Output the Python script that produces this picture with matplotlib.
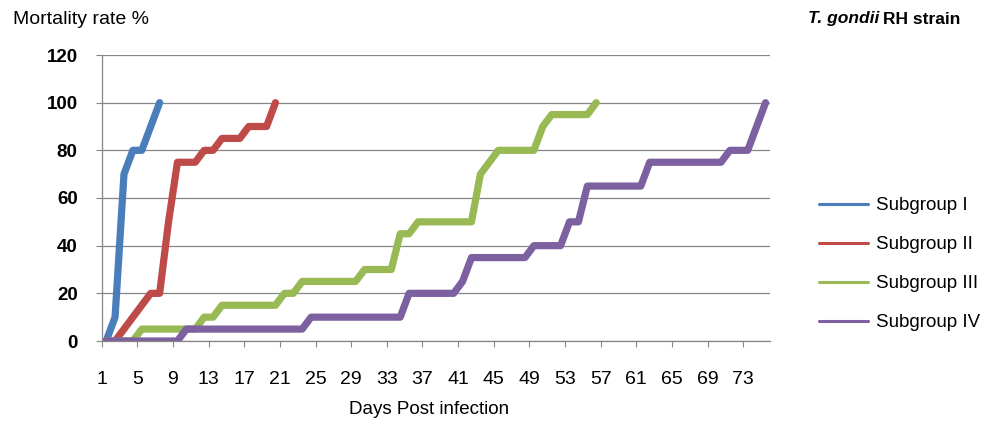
import numpy as np
import matplotlib.pyplot as plt

plt.rcParams['font.family'] = ['Liberation Sans', 'DejaVu Sans']

# mortality (%) per day post infection, one value per day starting at day 1
subgroup_1 = [0, 10, 70, 80, 80, 90, 100]
subgroup_2 = [0, 0, 5, 10, 15, 20, 20, 50, 75, 75,
              75, 80, 80, 85, 85, 85, 90, 90, 90, 100]
subgroup_3 = [0, 0, 0, 0, 5, 5, 5, 5, 5, 5,
              5, 10, 10, 15, 15, 15, 15, 15, 15, 15,
              20, 20, 25, 25, 25, 25, 25, 25, 25, 30,
              30, 30, 30, 45, 45, 50, 50, 50, 50, 50,
              50, 50, 70, 75, 80, 80, 80, 80, 80, 90,
              95, 95, 95, 95, 95, 100]
subgroup_4 = [0, 0, 0, 0, 0, 0, 0, 0, 0, 5,
              5, 5, 5, 5, 5, 5, 5, 5, 5, 5,
              5, 5, 5, 10, 10, 10, 10, 10, 10, 10,
              10, 10, 10, 10, 20, 20, 20, 20, 20, 20,
              25, 35, 35, 35, 35, 35, 35, 35, 40, 40,
              40, 40, 50, 50, 65, 65, 65, 65, 65, 65,
              65, 75, 75, 75, 75, 75, 75, 75, 75, 75,
              80, 80, 80, 90, 100]

series_names = ['Subgroup I', 'Subgroup II', 'Subgroup III', 'Subgroup IV']
series_colors = ['#4A7EBB', '#BE4B48', '#98B954', '#7D60A0']
n_days = 75
day_labels = [str(d) for d in range(1, n_days + 1, 4)]

W, H = 988, 425
fig = plt.figure(figsize=(W / 100, H / 100), dpi=100)
ax = fig.add_axes([101.7 / W, 1 - 341 / H, (770 - 101.7) / W, (341 - 55) / H])

for name, vals, col in zip(series_names,
                           [subgroup_1, subgroup_2, subgroup_3, subgroup_4],
                           series_colors):
    x = np.arange(1, len(vals) + 1)
    ax.plot(x, vals, color=col, lw=5.2, label=name,
            solid_joinstyle='round', solid_capstyle='round')

grey = '#868686'
ax.set_xlim(0.5, n_days + 0.5)
ax.set_ylim(0, 120)

ax.set_yticks(range(0, 121, 20))
ax.set_yticklabels([str(v) for v in range(0, 121, 20)], fontweight='bold', fontsize=13.5)
ax.yaxis.grid(True, color=grey, lw=0.9)
ax.set_axisbelow(True)

ax.set_xticks([0.5 + 4 * k for k in range(len(day_labels))])
ax.set_xticklabels(day_labels, fontsize=14)

ax.tick_params(axis='y', length=4.3, color=grey, pad=13)
ax.tick_params(axis='x', length=4.3, color=grey, pad=17)

for side in ['top', 'right']:
    ax.spines[side].set_visible(False)
for side in ['left', 'bottom']:
    ax.spines[side].set_color(grey)
    ax.spines[side].set_linewidth(0.9)

fig.text(13 / W, 1 - 20 / H, 'Mortality rate %', fontsize=14, ha='left', va='center')
fig.text(429 / W, 1 - 410 / H, 'Days Post infection', fontsize=13.5, ha='center', va='center')

# title with the italic species name
t1 = fig.text(808 / W, 1 - 19 / H, 'T. gondii', fontsize=12.5, fontweight='bold',
              fontstyle='italic', ha='left', va='center')
renderer = fig.canvas.get_renderer()
bb = t1.get_window_extent(renderer)
fig.text(bb.x1 / W + 4 / W, 1 - 19 / H, 'RH strain', fontsize=12.5, fontweight='bold',
         ha='left', va='center')

handles, labels = ax.get_legend_handles_labels()
leg = fig.legend(handles, labels, loc='upper left', bbox_to_anchor=(819 / W, 1 - 197 / H),
                 frameon=False, fontsize=13.5, handlelength=2.6, handletextpad=0.45,
                 labelspacing=1.17, borderpad=0, borderaxespad=0)
for line in leg.get_lines():
    line.set_linewidth(2.2)

fig.savefig('out.png', dpi=100)
